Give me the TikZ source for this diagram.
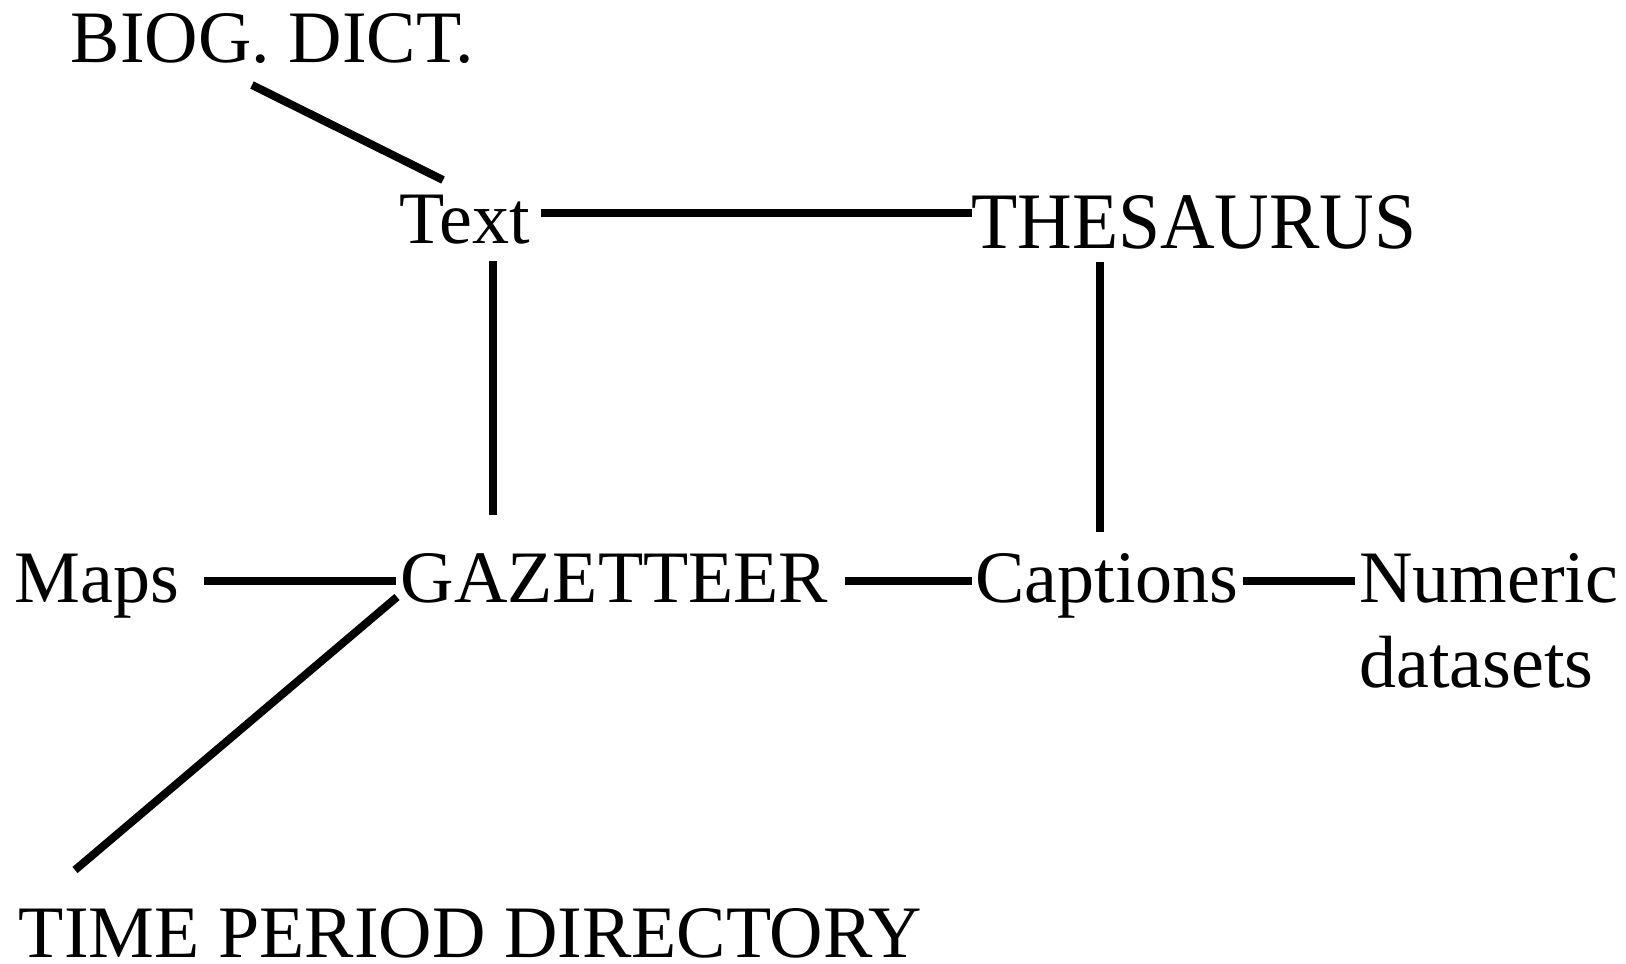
\documentclass[tikz,border=0pt]{standalone}
\usepackage{fontspec}
\setmainfont{Liberation Serif}
\usetikzlibrary{calc}
\begin{document}
\begin{tikzpicture}[x=0.5pt,y=-0.5pt,
  lbl/.style={inner sep=0pt, anchor=base, font=\fontsize{37}{42.5}\selectfont},
  link/.style={line width=4pt}]
\useasboundingbox (0,0) rectangle (1626,963);

% labels
\node[lbl] (biog) at (272.5,63) {BIOG. DICT.};
\node[lbl] (txt) at (465,243) {Text};
\node[lbl, font=\fontsize{37.8}{44}\selectfont] (thes) at (1194,248)
  {\scalebox{1}[1.06]{THESAURUS}};
\node[lbl] (maps) at (97,602) {Maps};
\node[lbl] (gaz) at (614.5,602) {GAZETTEER};
\node[lbl] (capt) at (1107,602) {Captions};
\node[lbl, anchor=base west] (num) at (1359,602)
  {\begin{tabular}[t]{@{}l@{}}Numeric\\datasets\end{tabular}};
\node[lbl] (tpd) at (470.5,957) {TIME PERIOD DIRECTORY};

% links
\draw[link] ($(biog.base)+(-20.5,22)$) -- ($(txt.base)+(-22,-63)$);
\draw[link] ($(txt.base)+(76,-30)$) -- ($(thes.base)+(-222,-35)$);
\draw[link] ($(txt.base)+(28,18)$) -- ($(gaz.base)+(-121.5,-87)$);
\draw[link] ($(thes.base)+(-94,14)$) -- ($(capt.base)+(-7,-70)$);
\draw[link] ($(maps.base)+(107,-21)$) -- ($(gaz.base)+(-218.5,-21)$);
\draw[link] ($(gaz.base)+(230.5,-21)$) -- ($(capt.base)+(-135,-21)$);
\draw[link] ($(capt.base)+(136,-21)$) -- ($(num.base west)+(-4,-21)$);
\draw[link] ($(gaz.base)+(-217.5,-5)$) -- ($(tpd.base)+(-395.5,-87)$);
\end{tikzpicture}
\end{document}
